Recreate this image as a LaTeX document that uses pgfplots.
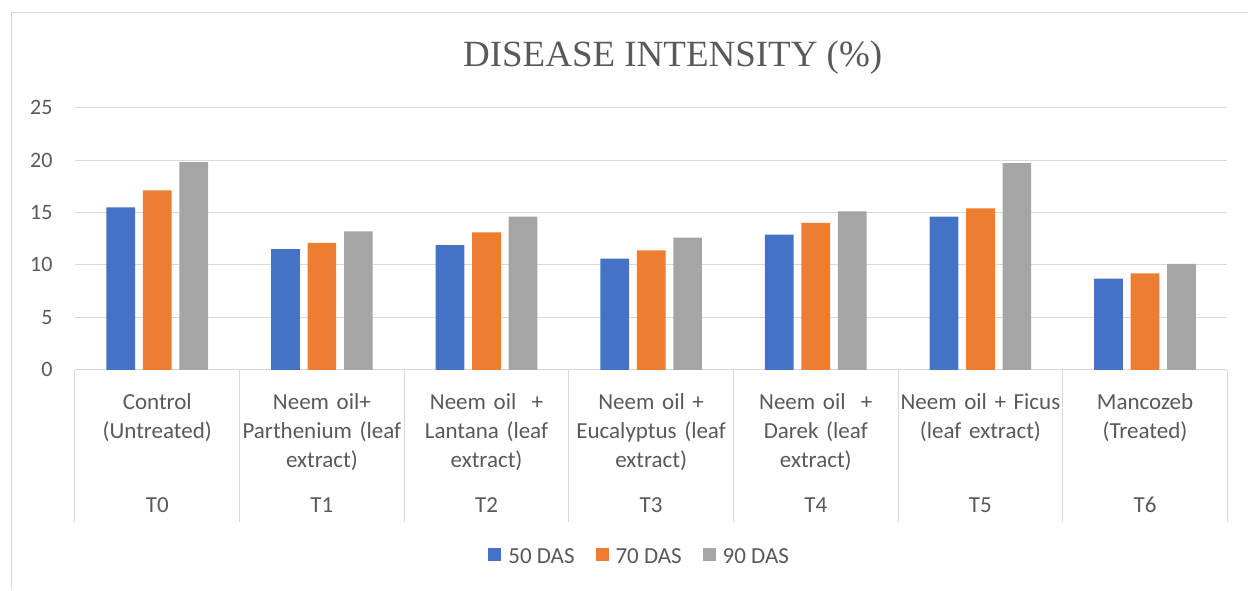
\documentclass[border=0pt]{standalone}
\usepackage{pgfplots}
\pgfplotsset{compat=1.18}
\usepackage{fontspec}
\setmainfont{Carlito}
\newfontfamily\titlefont{Liberation Serif}
\definecolor{c50}{HTML}{4472C4}
\definecolor{c70}{HTML}{ED7D31}
\definecolor{c90}{HTML}{A5A5A5}
\definecolor{txt}{HTML}{595959}
\definecolor{gridgray}{HTML}{D9D9D9}

\pgfplotstableread{
x  d50   d70   d90
0  15.5  17.1  19.8
1  11.5  12.1  13.2
2  11.9  13.1  14.6
3  10.6  11.4  12.6
4  12.9  14.0  15.1
5  14.6  15.4  19.7
6  8.7   9.2   10.1
}\disease

\begin{document}
\begin{tikzpicture}[
  cat/.style={anchor=base, align=center, text width=165bp, yshift=-40bp,
    text=txt, font=\fontsize{23bp}{29bp}\selectfont},
  tlab/.style={anchor=base, yshift=-143bp, text=txt, font=\fontsize{23bp}{29bp}\selectfont},
]
% outer chart frame (right and bottom edges cut off)
\path (0,0) rectangle (1248bp,590bp);
\draw[gridgray, line width=1.3bp] (11.5bp,0) -- (11.5bp,577.5bp) -- (1248bp,577.5bp);
\node[font=\titlefont\fontsize{37bp}{40bp}\selectfont, text=txt, anchor=base, inner sep=0pt]
  at (673bp,523.3bp) {DISEASE INTENSITY (\%)};
\begin{axis}[
  at={(75bp,220bp)}, anchor=south west,
  scale only axis,
  width=1153bp, height=262.3bp,
  xmin=-0.5, xmax=6.5,
  ymin=0, ymax=25,
  ytick={0,5,...,25},
  xtick=\empty,
  axis x line*=bottom,
  axis y line*=left,
  y axis line style={draw=none},
  x axis line style={draw=gridgray, line width=1bp},
  major tick length=0pt,
  y tick style={draw=none},
  ymajorgrids,
  grid style={draw=gridgray, line width=1bp},
  /pgf/number format/assume math mode=true,
  yticklabel style={font=\fontsize{22bp}{26bp}\selectfont, text=txt, xshift=-19bp},
  ybar=7.8bp,
  bar width=28.7bp,
  clip=false,
  legend columns=3,
  legend style={draw=none, at={(0.49,-0.713)}, anchor=center,
    font=\fontsize{23bp}{26bp}\selectfont, text=txt,
    /tikz/every odd column/.append style={column sep=5bp},
    /tikz/every even column/.append style={column sep=19bp}},
  legend image code/.code={\fill[#1] (0bp,-4bp) rectangle (13bp,9bp);},
]
\addplot[fill=c50, draw=none] table[x=x, y=d50] {\disease};
\addplot[fill=c70, draw=none] table[x=x, y=d70] {\disease};
\addplot[fill=c90, draw=none] table[x=x, y=d90] {\disease};
\legend{50 DAS, 70 DAS, 90 DAS}

% category cell dividers
\pgfplotsinvokeforeach{-0.5,0.5,...,6.5}{
  \draw[gridgray, line width=1bp] (axis cs:#1,0) -- ([yshift=-152bp]axis cs:#1,0);
}

\node[cat] at (axis cs:0,0) {Control\\(Untreated)};
\node[cat] at (axis cs:1,0) {Neem oil+\\Parthenium (leaf\\extract)};
\node[cat] at (axis cs:2,0) {Neem oil~~+\\Lantana (leaf\\extract)};
\node[cat] at (axis cs:3,0) {Neem oil +\\Eucalyptus (leaf\\extract)};
\node[cat] at (axis cs:4,0) {Neem oil~~+\\Darek (leaf\\extract)};
\node[cat] at (axis cs:5,0) {Neem oil + Ficus\\(leaf extract)};
\node[cat] at (axis cs:6,0) {Mancozeb\\(Treated)};
\node[tlab] at (axis cs:0,0) {T0};
\node[tlab] at (axis cs:1,0) {T1};
\node[tlab] at (axis cs:2,0) {T2};
\node[tlab] at (axis cs:3,0) {T3};
\node[tlab] at (axis cs:4,0) {T4};
\node[tlab] at (axis cs:5,0) {T5};
\node[tlab] at (axis cs:6,0) {T6};
\end{axis}
\end{tikzpicture}
\end{document}
